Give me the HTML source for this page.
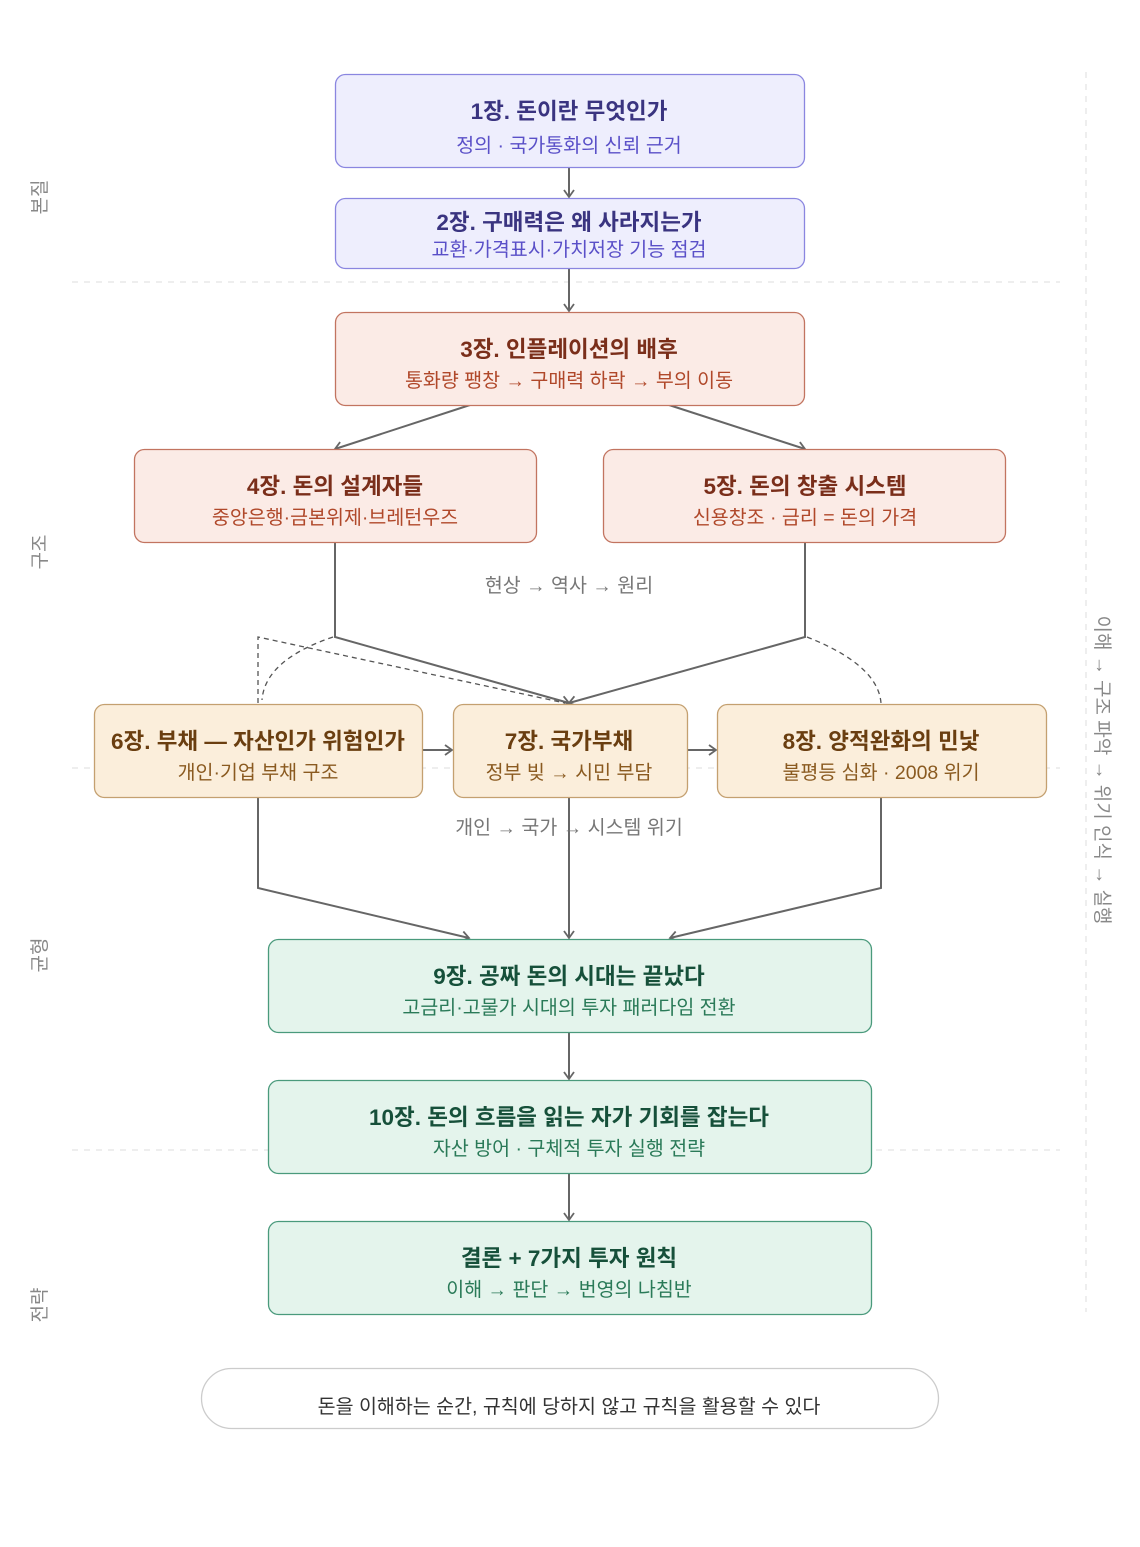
<!DOCTYPE html>
<html><head><meta charset="utf-8"><style>
html,body{margin:0;padding:0;background:#fff;}
svg text{font-family:"Liberation Sans","Noto Sans CJK KR",sans-serif;}
</style></head><body>
<svg width="1140" height="1542" viewBox="0 0 1140 1542" xmlns="http://www.w3.org/2000/svg">
<defs>
<marker id="a" markerWidth="12" markerHeight="12" refX="9" refY="6" orient="auto" markerUnits="userSpaceOnUse">
<path d="M2,1 L9,6 L2,11" fill="none" stroke="#666" stroke-width="1.8"/>
</marker>
</defs>
<g stroke="#ddd" stroke-width="1" stroke-dasharray="6,6">
<line x1="72" y1="282" x2="1060" y2="282"/>
<line x1="72" y1="768" x2="1060" y2="768"/>
<line x1="72" y1="1150" x2="1060" y2="1150"/>
<line x1="1086" y1="72" x2="1086" y2="1312"/>
</g>
<g stroke="#666" stroke-width="2" fill="none" marker-end="url(#a)">
<line x1="569" y1="167" x2="569" y2="197"/>
<line x1="569" y1="268" x2="569" y2="311"/>
<polyline points="470,405 335,449"/>
<polyline points="669,405 805,449"/>
<polyline points="335,542 335,637 569,703"/>
<polyline points="805,542 805,637 569,703"/>
<line x1="422" y1="750" x2="452" y2="750"/>
<line x1="687" y1="750" x2="716" y2="750"/>
<polyline points="258,797 258,888 469,938"/>
<line x1="569" y1="797" x2="569" y2="938"/>
<polyline points="881,797 881,888 670,938"/>
<line x1="569" y1="1032" x2="569" y2="1079"/>
<line x1="569" y1="1173" x2="569" y2="1220"/>
</g>
<g stroke="#555" stroke-width="1.3" fill="none" stroke-dasharray="5,4">
<polyline points="258,703 258,637 565,703"/>
<path d="M333,637 Q265,660 262,700"/>
<path d="M807,637 Q878,665 881,703"/>
</g>
<g stroke-width="1.3">
<rect x="335.5" y="74.5" width="469" height="93" rx="10" fill="#eeeefd" stroke="#8a86e0"/>
<rect x="335.5" y="198.5" width="469" height="70" rx="10" fill="#eeeefd" stroke="#8a86e0"/>
<rect x="335.5" y="312.5" width="469" height="93" rx="10" fill="#fbebe6" stroke="#c27460"/>
<rect x="134.5" y="449.5" width="402" height="93" rx="10" fill="#fbebe6" stroke="#c27460"/>
<rect x="603.5" y="449.5" width="402" height="93" rx="10" fill="#fbebe6" stroke="#c27460"/>
<rect x="94.5" y="704.5" width="328" height="93" rx="10" fill="#fbeedb" stroke="#c4a070"/>
<rect x="453.5" y="704.5" width="234" height="93" rx="10" fill="#fbeedb" stroke="#c4a070"/>
<rect x="717.5" y="704.5" width="329" height="93" rx="10" fill="#fbeedb" stroke="#c4a070"/>
<rect x="268.5" y="939.5" width="603" height="93" rx="10" fill="#e4f4ec" stroke="#4a9a7c"/>
<rect x="268.5" y="1080.5" width="603" height="93" rx="10" fill="#e4f4ec" stroke="#4a9a7c"/>
<rect x="268.5" y="1221.5" width="603" height="93" rx="10" fill="#e4f4ec" stroke="#4a9a7c"/>
<rect x="201.5" y="1368.5" width="737" height="60" rx="30" fill="#fff" stroke="#ccc"/>
</g>
<g text-anchor="middle">
<g font-size="22.5" font-weight="bold">
<text x="569" y="119" fill="#3a3480">1장. 돈이란 무엇인가</text>
<text x="569" y="230" fill="#3a3480">2장. 구매력은 왜 사라지는가</text>
<text x="569" y="357" fill="#7a2e1a">3장. 인플레이션의 배후</text>
<text x="335" y="494" fill="#7a2e1a">4장. 돈의 설계자들</text>
<text x="805" y="494" fill="#7a2e1a">5장. 돈의 창출 시스템</text>
<text x="258" y="749" fill="#6a3e10">6장. 부채 — 자산인가 위험인가</text>
<text x="569" y="749" fill="#6a3e10">7장. 국가부채</text>
<text x="881" y="749" fill="#6a3e10">8장. 양적완화의 민낯</text>
<text x="569" y="984" fill="#16503a">9장. 공짜 돈의 시대는 끝났다</text>
<text x="569" y="1125" fill="#16503a">10장. 돈의 흐름을 읽는 자가 기회를 잡는다</text>
<text x="569" y="1266" fill="#16503a">결론 + 7가지 투자 원칙</text>
</g>
<g font-size="19.5">
<text x="569" y="152" fill="#5a50c8">정의 · 국가통화의 신뢰 근거</text>
<text x="569" y="256" fill="#5a50c8">교환·가격표시·가치저장 기능 점검</text>
<text x="569" y="387" fill="#b0482a">통화량 팽창 → 구매력 하락 → 부의 이동</text>
<text x="335" y="524" fill="#b0482a">중앙은행·금본위제·브레턴우즈</text>
<text x="805" y="524" fill="#b0482a">신용창조 · 금리 = 돈의 가격</text>
<text x="258" y="779" fill="#8a5a20">개인·기업 부채 구조</text>
<text x="569" y="779" fill="#8a5a20">정부 빚 → 시민 부담</text>
<text x="881" y="779" fill="#8a5a20">불평등 심화 · 2008 위기</text>
<text x="569" y="1014" fill="#2a7a58">고금리·고물가 시대의 투자 패러다임 전환</text>
<text x="569" y="1155" fill="#2a7a58">자산 방어 · 구체적 투자 실행 전략</text>
<text x="569" y="1296" fill="#2a7a58">이해 → 판단 → 번영의 나침반</text>
<text x="569" y="592" fill="#777">현상 → 역사 → 원리</text>
<text x="569" y="834" fill="#777">개인 → 국가 → 시스템 위기</text>
<text x="569" y="1413" fill="#333">돈을 이해하는 순간, 규칙에 당하지 않고 규칙을 활용할 수 있다</text>
</g>
<g font-size="19" fill="#888">
<text transform="translate(46,197) rotate(-90)">본질</text>
<text transform="translate(46,552) rotate(-90)">구조</text>
<text transform="translate(46,955) rotate(-90)">균형</text>
<text transform="translate(46,1305) rotate(-90)">전략</text>
<text transform="translate(1096,770) rotate(90)">이해 → 구조 파악 → 위기 인식 → 실행</text>
</g>
</g>
</svg>
</body></html>
